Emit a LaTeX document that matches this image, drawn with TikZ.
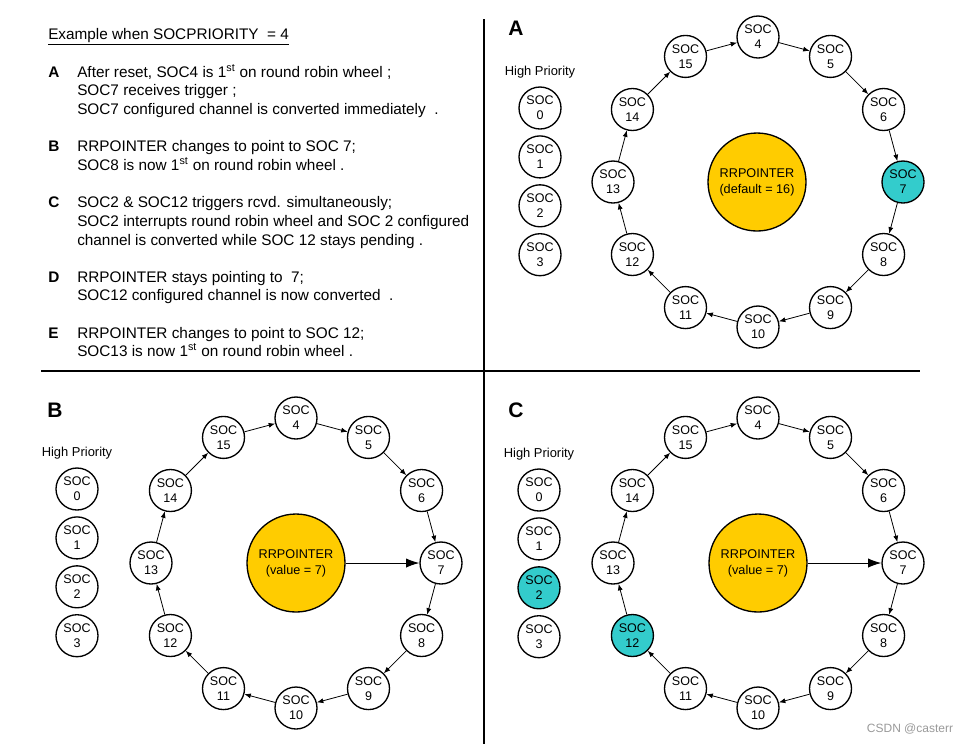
\documentclass[tikz,border=0pt]{standalone}
\usepackage{fontspec}
\setmainfont{Liberation Sans}
\usetikzlibrary{arrows.meta}
\definecolor{rrgold}{HTML}{FFCC00}
\definecolor{socteal}{HTML}{33CCCC}
\tikzstyle{soc} = [circle, draw, line width=1pt, minimum size=31.5pt, inner sep=0pt, align=center, font=\fontsize{9.4}{11.3}\selectfont]
\tikzstyle{pointer} = [circle, draw, line width=1pt, fill=rrgold, minimum size=73.5pt, inner sep=0pt, align=center, font=\fontsize{9.5}{12}\selectfont]
\tikzstyle{wheelarrow} = [-{Latex[length=4.8pt,width=3.8pt]}, line width=0.6pt]
\tikzstyle{ptrarrow} = [-{Latex[length=10pt,width=7pt]}, line width=0.75pt]
\tikzstyle{txt} = [anchor=base west, inner sep=0pt, font=\fontsize{11.5}{13.5}\selectfont]
\tikzstyle{item} = [anchor=base west, inner sep=0pt, font=\fontsize{11.5}{13.5}\selectfont\bfseries]
\tikzstyle{panel} = [inner sep=0pt, font=\fontsize{15.75}{18}\selectfont\bfseries]
\tikzstyle{prio} = [inner sep=0pt, font=\fontsize{9.7}{11}\selectfont]
% wheel: name, centre x, centre y, highlighted SOC (0 = none)
\newcommand{\drawWheel}[4]
{
    \foreach \k in {4,...,15} {
        \pgfmathsetmacro{\ang}{90-30*(\k-4)}
        \ifnum\k=#4 \def\socfill{socteal}\else\def\socfill{white}\fi
        \node (#1\k) [soc, fill=\socfill] at ({#2+145*cos(\ang)},{#3-145*sin(\ang)}) {SOC\\\k};
    }
    \foreach \k in {4,...,15} {
        \pgfmathtruncatemacro{\nx}{\k==15 ? 4 : \k+1}
        \draw [wheelarrow] (#1\k) -- (#1\nx);
    }
}
% high priority column: name, x, y of SOC 0, highlighted SOC (9 = none)
\newcommand{\drawPrio}[4]
{
    \node (#1hp) [prio] at (#2,#3-36) {High Priority};
    \foreach \k in {0,...,3} {
        \ifnum\k=#4 \def\socfill{socteal}\else\def\socfill{white}\fi
        \node (#1\k) [soc, fill=\socfill] at (#2,{#3+48.9*\k}) {SOC\\\k};
    }
}

\begin{document}
\begin{tikzpicture}[x=0.75pt, y=-0.75pt]
\useasboundingbox (0,0) rectangle (969,744);

% dividers
\draw [line width=0.8pt] (484,19) -- (484,744);
\draw [line width=0.8pt] (41,371) -- (920,371);

% explanation
\node (title) [txt] at (48,39) {\underline{Example when SOCPRIORITY \ = 4}};
\node (lA) [item] at (48,77) {A};
\node (tA1) [txt] at (77,77) {After reset, SOC4 is 1\textsuperscript{st} on round robin wheel ;};
\node (tA2) [txt] at (77,95.5) {SOC7 receives trigger ;};
\node (tA3) [txt] at (77,114) {SOC7 configured channel is converted immediately \ .};
\node (lB) [item] at (48,151.5) {B};
\node (tB1) [txt] at (77,151.5) {RRPOINTER changes to point to SOC 7;};
\node (tB2) [txt] at (77,170) {SOC8 is now 1\textsuperscript{st} on round robin wheel .};
\node (lC) [item] at (48,207) {C};
\node (tC1) [txt] at (77,207) {SOC2 \& SOC12 triggers rcvd. simultaneously;};
\node (tC2) [txt] at (77,226) {SOC2 interrupts round robin wheel and SOC 2 configured};
\node (tC3) [txt] at (77,245) {channel is converted while SOC 12 stays pending .};
\node (lD) [item] at (48,282) {D};
\node (tD1) [txt] at (77,282) {RRPOINTER stays pointing to \ 7;};
\node (tD2) [txt] at (77,300.5) {SOC12 configured channel is now converted \ .};
\node (lE) [item] at (48,338) {E};
\node (tE1) [txt] at (77,338) {RRPOINTER changes to point to SOC 12;};
\node (tE2) [txt] at (77,356) {SOC13 is now 1\textsuperscript{st} on round robin wheel .};

% A
\node (labA) [panel] at (516,28) {A};
\drawPrio{pa}{540}{108}{9}
\drawWheel{a}{758}{182}{7}
\node (rra) [pointer] at (757,182) {RRPOINTER\\(default = 16)};

% B
\node (labB) [panel] at (55,410) {B};
\drawPrio{pb}{77}{489}{9}
\drawWheel{b}{296}{563}{0}
\node (rrb) [pointer] at (296,563) {RRPOINTER\\(value = 7)};
\draw [ptrarrow] (rrb) -- (b7);

% C
\node (labC) [panel] at (516,410) {C};
\drawPrio{pc}{539}{490}{2}
\drawWheel{c}{758}{563}{12}
\node (rrc) [pointer] at (758,563) {RRPOINTER\\(value = 7)};
\draw [ptrarrow] (rrc) -- (c7);

\node (mark) [inner sep=0pt, text=black!40, font=\fontsize{9}{10}\selectfont] at (910,729) {CSDN @casterr};
\end{tikzpicture}
\end{document}
